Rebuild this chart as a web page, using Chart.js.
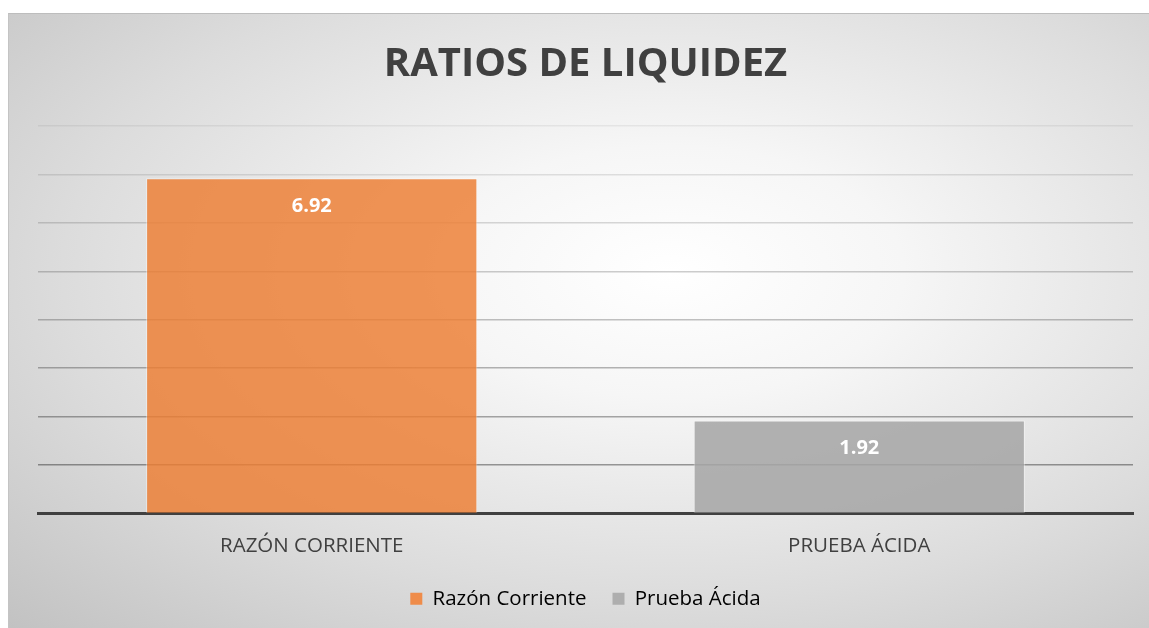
<!DOCTYPE html>
<html>
<head>
<meta charset="utf-8">
<script src="https://cdn.jsdelivr.net/npm/chart.js@4"></script>
<style>
    html, body { margin: 0; padding: 0; background: #fff; }
    #box {
        position: absolute; left: 8px; top: 13px; width: 1141px; height: 615px;
        border-top: 1px solid #bdbdbd; border-left: 1px solid #c4c4c4;
        box-sizing: border-box;
        background: radial-gradient(ellipse farthest-corner at 58% 42%, #ffffff 0%, #f6f6f6 25%, #dcdcdc 65%, #c2c2c2 100%);
    }
    #wrap { position: absolute; left: 0; top: 0; width: 1140px; height: 614px; }
</style>
</head>
<body>
<div id="box"><div id="wrap"><canvas id="ratiosChart"></canvas></div></div>
<script>
    const categories = ['RAZÓN CORRIENTE', 'PRUEBA ÁCIDA'];
    const legendNames = ['Razón Corriente', 'Prueba Ácida'];
    const ratioValues = [6.92, 1.92];
    const barColors = ['rgba(237, 125, 49, 0.82)', 'rgba(165, 165, 165, 0.85)'];
    const legendColors = ['#ef8c4a', '#aeaeae'];

    // White value labels inside the top of each bar
    const barLabels = {
        id: 'barLabels',
        afterDatasetsDraw(chart) {
            const ctx = chart.ctx;
            const meta = chart.getDatasetMeta(0);
            ctx.save();
            ctx.fillStyle = '#ffffff';
            ctx.font = 'bold 20px "Open Sans"';
            ctx.textAlign = 'center';
            ctx.textBaseline = 'middle';
            meta.data.forEach((bar, i) => {
                ctx.fillText(ratioValues[i].toFixed(2), bar.x, bar.y + 28);
            });
            ctx.restore();
        }
    };

    const ctx = document.getElementById('ratiosChart').getContext('2d');
    new Chart(ctx, {
        type: 'bar',
        data: {
            labels: categories,
            datasets: [{
                label: 'Ratios',
                data: ratioValues,
                backgroundColor: barColors,
                borderColor: 'rgba(255, 255, 255, 0.45)',
                borderWidth: 1,
                categoryPercentage: 1,
                barPercentage: 0.605
            }]
        },
        options: {
            responsive: true,
            maintainAspectRatio: false,
            animation: false,
            layout: { padding: { left: 29, right: 16, top: 0, bottom: 9 } },
            plugins: {
                title: {
                    display: true,
                    text: 'RATIOS DE LIQUIDEZ',
                    color: '#404040',
                    font: { family: 'Open Sans', size: 40, weight: 'bold' },
                    padding: { top: 27, bottom: 37 }
                },
                legend: {
                    position: 'bottom',
                    labels: {
                        color: '#404040',
                        font: { family: 'Open Sans', size: 20.5 },
                        boxWidth: 12,
                        boxHeight: 12,
                        padding: 26,
                        generateLabels() {
                            return legendNames.map((name, i) => ({
                                text: name,
                                fillStyle: legendColors[i],
                                strokeStyle: legendColors[i],
                                lineWidth: 0,
                                index: i
                            }));
                        }
                    }
                },
                tooltip: { enabled: false }
            },
            scales: {
                x: {
                    grid: { display: false, drawTicks: false },
                    border: { display: true, color: '#404040', width: 3 },
                    ticks: {
                        color: '#404040',
                        font: { family: 'Open Sans', size: 20.5 },
                        padding: 20
                    },
                    afterFit(scale) { scale.height = 49; }
                },
                y: {
                    min: 0,
                    max: 8,
                    ticks: { display: false, stepSize: 1 },
                    border: { display: false },
                    grid: {
                        drawTicks: false,
                        color: (c) => {
                            const v = c.tick ? c.tick.value : 0;
                            const a = 0.42 - v * 0.045;
                            return 'rgba(0, 0, 0, ' + a.toFixed(3) + ')';
                        },
                        lineWidth: 1.5
                    }
                }
            }
        },
        plugins: [barLabels]
    });
</script>
</body>
</html>
